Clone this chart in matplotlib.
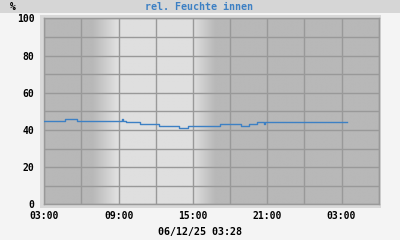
import numpy as np
import matplotlib
matplotlib.use("Agg")
import matplotlib.pyplot as plt
from matplotlib.patches import Rectangle

# ---- data ----
title = "rel. Feuchte innen"
unit = "%"
stamp = "06/12/25 03:28"
# times as hours after 03:00 of the first day
times = ["03:00", "04:40", "05:38", "09:15", "09:22", "09:34", "10:44", "12:17",
         "13:53", "14:38", "17:13", "18:53", "19:32", "20:12", "20:46", "20:50", "27:28"]
values = [45, 46, 45, 46, 45, 44, 43, 42, 41, 42, 43, 42, 43, 44, 43, 44, 44]
xtick_hours = [0, 6, 12, 18, 24]
xtick_labels = ["03:00", "09:00", "15:00", "21:00", "03:00"]
yticks = [0, 20, 40, 60, 80, 100]
# daylight shading (hours after 03:00): dawn start/end, dusk start/end
light_times = [0, 3.9, 5.85, 12.0, 13.8, 27]
light_levels = [0, 0, 1, 1, 0, 0]

def to_h(s):
    h, m = s.split(":")
    return int(h) - 3 + int(m) / 60.0

t = np.array([to_h(s) for s in times])
v = np.array(values)

W, H = 400, 240
fig = plt.figure(figsize=(W / 100, H / 100), dpi=100)
fig.patch.set_facecolor("#f4f4f4")

# title band
fig.add_artist(Rectangle((0, 1 - 13 / H), 1, 13 / H, transform=fig.transFigure,
                         facecolor="#d6d6d6", edgecolor="none", zorder=0))
# outer plot border
fig.add_artist(Rectangle((40 / W, 1 - 207.5 / H), 341 / W, 193 / H,
                         transform=fig.transFigure, facecolor="#d8d8d8",
                         edgecolor="none", zorder=0))

L, R, T, B = 44.3, 378.7, 18.3, 204.3
ax = fig.add_axes([L / W, 1 - B / H, (R - L) / W, (B - T) / H])
ax.set_zorder(2)
ax.set_xlim(0, 27)
ax.set_ylim(0, 100)

# background shading
xs = np.linspace(0, 27, 600)
lev = np.interp(xs, light_times, light_levels)
dark, light = 0xb8 / 255, 0xdf / 255
g = dark + (light - dark) * lev
img = np.repeat(g[None, :, None], 3, axis=2)
ax.imshow(img, extent=[0, 27, 0, 100], aspect="auto", zorder=0, interpolation="bilinear")

ax.step(t, v, where="post", color="#3d80c4", lw=1.0, zorder=3)

ax.set_xticks(xtick_hours)
ax.set_xticklabels(xtick_labels)
ax.set_xticks(np.arange(0, 28, 3), minor=True)
ax.set_yticks(yticks)
ax.set_yticks(np.arange(0, 101, 10), minor=True)
ax.grid(which="both", color="#999999", lw=1.0, zorder=1)
ax.set_axisbelow(False)
ax.tick_params(which="both", length=0)
ax.tick_params(axis="x", pad=5)
ax.tick_params(axis="y", pad=7)
for lab in ax.get_xticklabels() + ax.get_yticklabels():
    lab.set_fontfamily("DejaVu Sans Mono")
    lab.set_fontweight("bold")
    lab.set_fontsize(7)
for s in ax.spines.values():
    s.set_color("#999999")
    s.set_linewidth(1.0)

fig.text(12.7 / W, 1 - 6.5 / H, unit, ha="center", va="center", fontsize=7,
         fontfamily="DejaVu Sans Mono", fontweight="bold", color="black")
fig.text(199 / W, 1 - 6.5 / H, title, ha="center", va="center", fontsize=7.2,
         fontfamily="DejaVu Sans Mono", fontweight="bold", color="#3d80c4")
fig.text(199.5 / W, 1 - 231.7 / H, stamp, ha="center", va="center", fontsize=7.2,
         fontfamily="DejaVu Sans Mono", fontweight="bold", color="black")

fig.savefig("out.png", dpi=100, facecolor=fig.get_facecolor())
